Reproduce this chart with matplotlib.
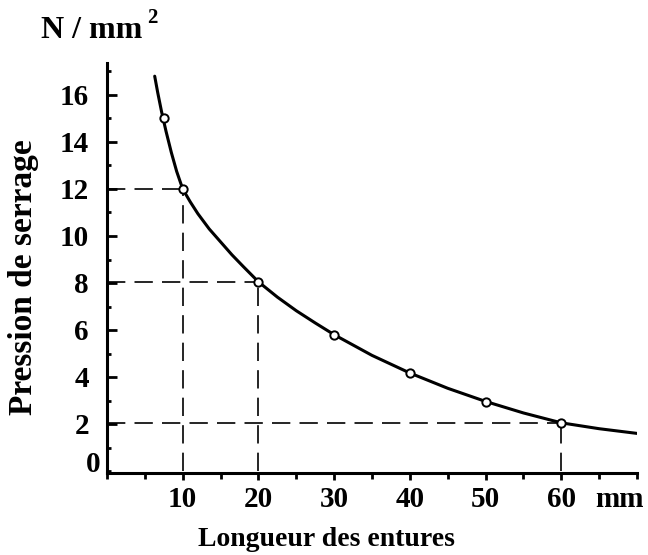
import matplotlib
matplotlib.use("Agg")
import matplotlib.pyplot as plt
from matplotlib.ticker import MultipleLocator

# Data
marker_x = [7.5, 10, 20, 30, 40, 50, 60]
marker_y = [15.0, 12.0, 8.05, 5.8, 4.15, 2.95, 2.05]

curve_x = [6.3, 6.7, 7.2, 7.8, 8.5, 9.2, 10.0, 11.0, 12.0, 13.5, 15.0, 16.5, 18.0,
           20.0, 22.5, 25.0, 27.5, 30.0, 35.0, 40.0, 45.0, 50.0, 55.0, 60.0,
           65.0, 70.0]
curve_y = [16.8, 16.1, 15.3, 14.45, 13.55, 12.75, 12.0, 11.45, 10.95, 10.3, 9.75,
           9.2, 8.7, 8.05, 7.4, 6.82, 6.3, 5.8, 4.92, 4.17, 3.52, 2.96, 2.47,
           2.05, 1.8, 1.6]

guide_x = [10, 20, 60]
guide_y = [12.0, 8.05, 2.05]

x_ticks = [10, 20, 30, 40, 50, 60]
y_ticks = [2, 4, 6, 8, 10, 12, 14, 16]

FONT = "Liberation Serif"
W, H = 648, 555

fig = plt.figure(figsize=(W / 100, H / 100), dpi=100)
ax_left, ax_right, ax_bottom, ax_top = 107, 637, 473, 63
ax = fig.add_axes([ax_left / W, 1 - ax_bottom / H, (ax_right - ax_left) / W,
                   (ax_bottom - ax_top) / H])
ppu = 23.5
ax.set_xlim(0, 70)
ax.set_ylim(-2 / ppu, (ax_bottom - ax_top - 2) / ppu)

# guide dashed lines
for gx, gy in zip(guide_x, guide_y):
    ax.plot([0, gx], [gy, gy], color="black", lw=1.2, dashes=(11, 5.5))
    ax.plot([gx, gx], [0, gy], color="black", lw=1.2, dashes=(11, 5.5))

ax.plot(curve_x, curve_y, color="black", lw=2.2, solid_capstyle="round",
        solid_joinstyle="round")
ax.plot(marker_x, marker_y, "o", ms=6, mfc="white", mec="black", mew=1.4,
        zorder=5)

for s in ["top", "right"]:
    ax.spines[s].set_visible(False)
for s in ["left", "bottom"]:
    ax.spines[s].set_linewidth(2.2)

ax.set_xticks(x_ticks)
ax.xaxis.set_minor_locator(MultipleLocator(5))
ax.set_yticks(y_ticks)
ax.yaxis.set_minor_locator(MultipleLocator(1))
ax.tick_params(axis="x", which="major", direction="out", length=5, width=2,
               pad=4.5, labelsize=21)
ax.tick_params(axis="x", which="minor", direction="out", length=4, width=2)
ax.tick_params(axis="y", which="major", direction="in", length=7, width=2,
               pad=13, labelsize=21)
ax.tick_params(axis="y", which="minor", direction="in", length=3, width=2)
for lab in ax.get_xticklabels() + ax.get_yticklabels():
    lab.set_fontfamily(FONT)
    lab.set_fontweight("bold")

fig.text(24 / W, 1 - 277 / H, "Pression de serrage", fontsize=24,
         fontweight="bold", fontfamily=FONT, rotation=90, ha="center",
         va="center")
fig.text(326 / W, 1 - 539 / H, "Longueur des entures", fontsize=20,
         fontweight="bold", fontfamily=FONT, ha="center", va="center")
fig.text(93 / W, 1 - 465 / H, "0", fontsize=21, fontweight="bold",
         fontfamily=FONT, ha="center", va="center")
fig.text(619 / W, 1 - 486 / H, "mm", fontsize=21, fontweight="bold",
         fontfamily=FONT, ha="center", va="top")
fig.text(41 / W, 1 - 31 / H, "N / mm", fontsize=23, fontweight="bold",
         fontfamily=FONT, ha="left", va="center")
fig.text(147 / W, 1 - 18 / H, "2", fontsize=15, fontweight="bold",
         fontfamily=FONT, ha="left", va="center")

fig.savefig("out.png", dpi=100)
